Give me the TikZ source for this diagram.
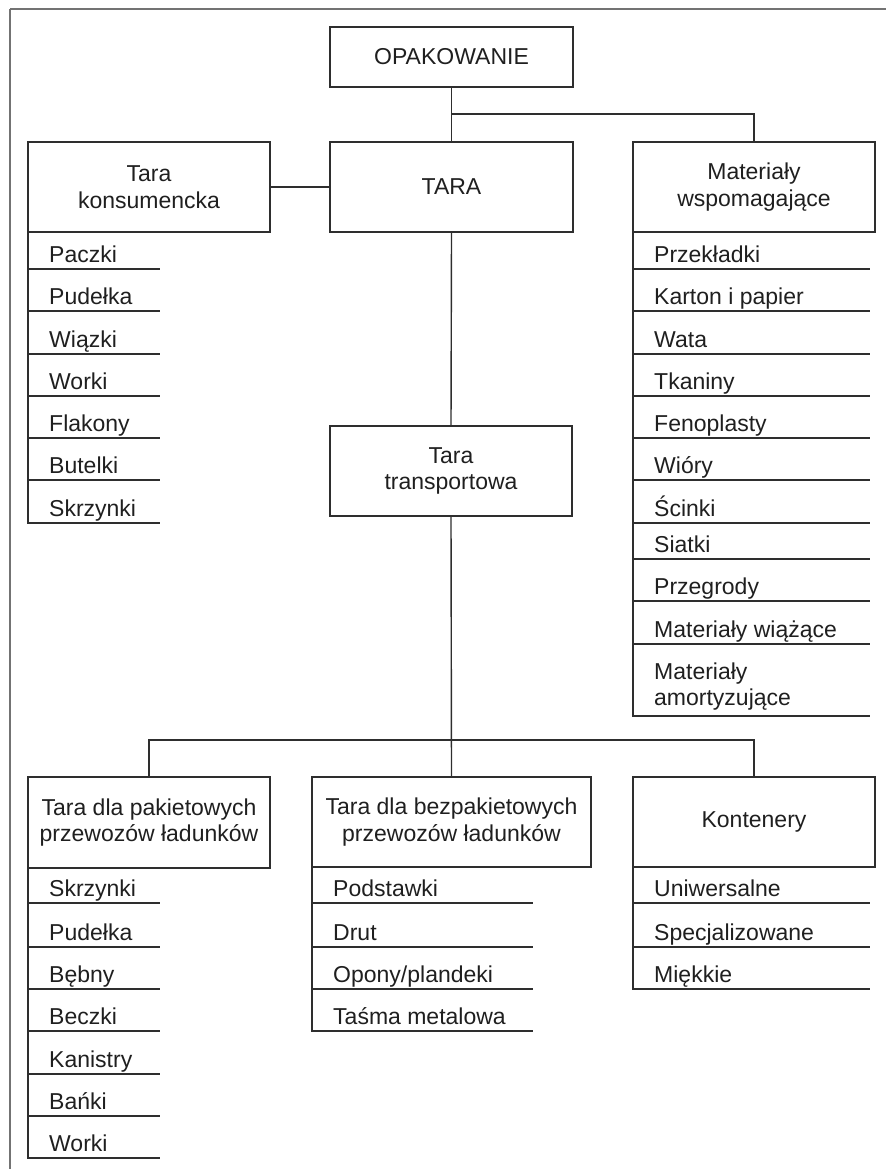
\documentclass[tikz,border=0pt]{standalone}
\usepackage{fontspec}
\setmainfont{Liberation Sans}
\begin{document}
\begin{tikzpicture}[x=1pt,y=-1pt,
  every node/.style={font=\fontsize{23}{26.5}\selectfont, text=black!88},
  box/.style={draw=black!82, line width=1.4pt, minimum width=243pt, minimum height=90pt, align=center, inner sep=0pt, outer sep=0pt},
  item/.style={anchor=base west, inner sep=0pt, align=left},
  conn/.style={draw=black!82, line width=1.4pt, line cap=rect},
  frame/.style={draw=black!55, line width=1.6pt}]
\useasboundingbox (0,0) rectangle (886,1169);
% partial frame
\draw[frame] (10,9) -- (886,9);
\draw[frame] (10,9) -- (10,1169);

% boxes
\node[box, minimum height=60pt] (opak) at (451.5,57) {OPAKOWANIE};
\node[box] (tara) at (451.5,187) {TARA};
\node[box, minimum width=242pt] (kons) at (149,187) {Tara\\konsumencka};
\node[box, minimum width=242pt] (mat) at (754,187) {Materiały\\wspomagające};
\node[box, minimum width=242pt] (trans) at (451,471) {Tara\\transportowa};
\node[box, minimum width=242pt, minimum height=91pt] (pak) at (149,822.5) {Tara dla pakietowych\\przewozów ładunków};
\node[box, minimum width=279pt] (bez) at (451.5,822) {Tara dla bezpakietowych\\przewozów ładunków};
\node[box, minimum width=242pt] (kont) at (754,822) {Kontenery};

% connectors
\coordinate (j1) at (451.5,114);
\coordinate (j2) at (451,740);
\draw[conn] (opak.south) -- (tara.north);
\draw[conn] (j1) -| (mat.north);
\draw[conn] (kons.east) -- (tara.west);
\draw[conn] (tara.south) -- (trans.north);
\draw[conn] (trans.south) -- (bez.north);
\draw[conn] (pak.north) |- (j2) -| (kont.north);

% list: Tara konsumencka
\foreach \t/\y [count=\i] in {Paczki/269,Pudełka/311,Wiązki/354,Worki/396,Flakony/438,Butelki/480,Skrzynki/523}{
  \node[item] (k\i) at (49,\y-6.5) {\t};
  \draw[conn] (28,\y) -- (159,\y);
}
\coordinate (kend) at (28,523);
\draw[conn] (kons.south west) -- (kend);

% list: Materiały wspomagające
\foreach \t/\y [count=\i] in {Przekładki/269,{Karton i papier}/311,Wata/354,Tkaniny/396,Fenoplasty/438,Wióry/480,Ścinki/523,Siatki/559,Przegrody/601,{Materiały wiążące}/644}{
  \node[item] (m\i) at (654,\y-6.5) {\t};
  \draw[conn] (633,\y) -- (869,\y);
}
\node[item] (m11) at (654,705.5) {Materiały\\amortyzujące};
\draw[conn] (633,716) -- (869,716);
\coordinate (mend) at (633,716);
\draw[conn] (mat.south west) -- (mend);

% list: Tara dla pakietowych
\foreach \t/\y [count=\i] in {Skrzynki/903,Pudełka/947,Bębny/989,Beczki/1031,Kanistry/1074,Bańki/1116,Worki/1158}{
  \node[item] (p\i) at (49,\y-6.5) {\t};
  \draw[conn] (28,\y) -- (159,\y);
}
\coordinate (pend) at (28,1158);
\draw[conn] (pak.south west) -- (pend);

% list: Tara dla bezpakietowych
\foreach \t/\y [count=\i] in {Podstawki/903,Drut/947,{Opony/plandeki}/989,{Taśma metalowa}/1031}{
  \node[item] (b\i) at (333,\y-6.5) {\t};
  \draw[conn] (312,\y) -- (532,\y);
}
\coordinate (bend) at (312,1031);
\draw[conn] (bez.south west) -- (bend);

% list: Kontenery
\foreach \t/\y [count=\i] in {Uniwersalne/903,Specjalizowane/947,Miękkie/989}{
  \node[item] (c\i) at (654,\y-6.5) {\t};
  \draw[conn] (633,\y) -- (869,\y);
}
\coordinate (cend) at (633,989);
\draw[conn] (kont.south west) -- (cend);
\end{tikzpicture}
\end{document}
